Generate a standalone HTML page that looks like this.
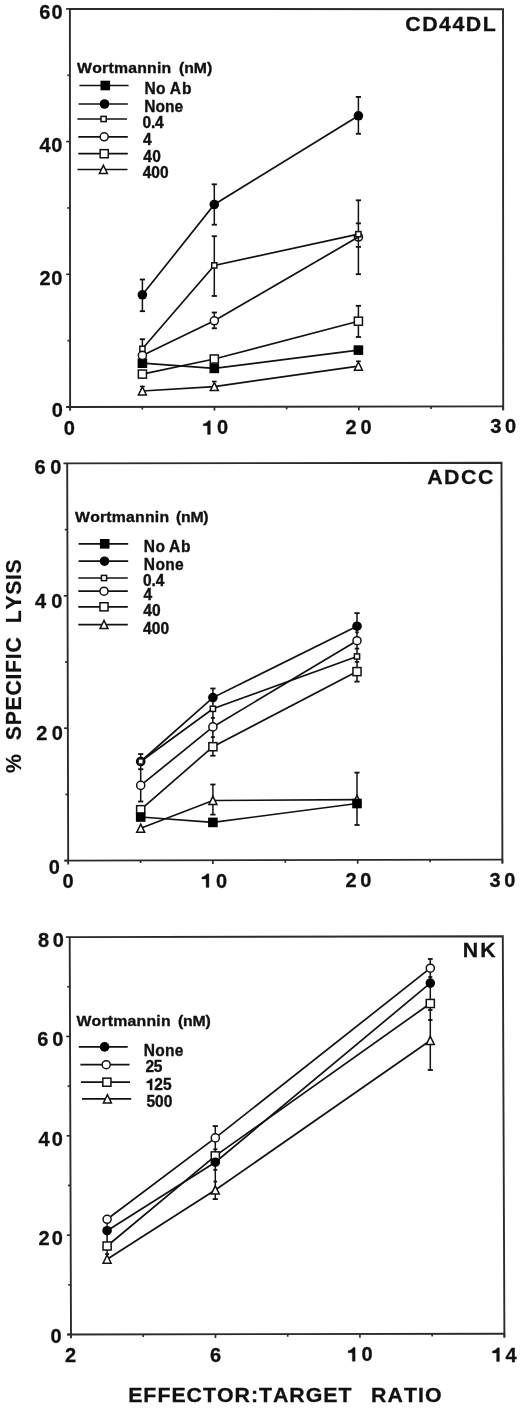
<!DOCTYPE html><html><head><meta charset="utf-8"><style>html,body{margin:0;padding:0;background:#fff;}svg{display:block;will-change:transform;}text{font-family:"Liberation Sans", sans-serif;font-weight:bold;fill:#111;stroke:none;} .hv{stroke:#111;stroke-width:0.35px;} .th{stroke:#111;stroke-width:0.2px;} .tt{stroke:#111;stroke-width:0.3px;}</style></head><body>
<svg width="520" height="1408" viewBox="0 0 520 1408">
<rect width="520" height="1408" fill="#fff"/>
<g stroke="#111" fill="none" stroke-linecap="butt">
<path d="M70.10,410.80 L69.90,8.90 L503.00,9.20 L503.20,410.20" stroke="#2b2b2b" stroke-width="1.9" stroke-linejoin="miter" stroke-linecap="butt"/>
<line x1="66.30" y1="407.00" x2="503.20" y2="406.40" stroke="#2b2b2b" stroke-width="1.9"/>
<line x1="66.30" y1="407.00" x2="70.10" y2="407.00" stroke="#2b2b2b" stroke-width="1.7"/>
<line x1="66.23" y1="274.30" x2="70.03" y2="274.30" stroke="#2b2b2b" stroke-width="1.7"/>
<line x1="66.17" y1="141.60" x2="69.97" y2="141.60" stroke="#2b2b2b" stroke-width="1.7"/>
<line x1="66.10" y1="8.90" x2="69.90" y2="8.90" stroke="#2b2b2b" stroke-width="1.7"/>
<line x1="67.47" y1="340.65" x2="70.07" y2="340.65" stroke="#2b2b2b" stroke-width="1.7"/>
<line x1="67.40" y1="207.95" x2="70.00" y2="207.95" stroke="#2b2b2b" stroke-width="1.7"/>
<line x1="67.33" y1="75.25" x2="69.93" y2="75.25" stroke="#2b2b2b" stroke-width="1.7"/>
<line x1="214.47" y1="406.80" x2="214.47" y2="410.60" stroke="#2b2b2b" stroke-width="1.7"/>
<line x1="358.83" y1="406.60" x2="358.83" y2="410.40" stroke="#2b2b2b" stroke-width="1.7"/>
<line x1="503.20" y1="406.40" x2="503.20" y2="410.20" stroke="#2b2b2b" stroke-width="1.7"/>
<line x1="142.28" y1="406.90" x2="142.28" y2="409.50" stroke="#2b2b2b" stroke-width="1.7"/>
<line x1="286.65" y1="406.70" x2="286.65" y2="409.30" stroke="#2b2b2b" stroke-width="1.7"/>
<line x1="431.02" y1="406.50" x2="431.02" y2="409.10" stroke="#2b2b2b" stroke-width="1.7"/>
<polyline points="142.4,294.8 214.3,204.5 358.4,115.8" fill="none" stroke-width="1.7"/>
<polyline points="142.4,348.8 214.3,265.4 358.4,234.2" fill="none" stroke-width="1.7"/>
<polyline points="142.4,355.4 214.3,320.8 358.4,237.0" fill="none" stroke-width="1.7"/>
<polyline points="142.4,363.2 214.3,368.4 358.4,350.1" fill="none" stroke-width="1.7"/>
<polyline points="142.4,374.1 214.3,359.0 358.4,321.2" fill="none" stroke-width="1.7"/>
<polyline points="142.4,391.0 214.3,386.6 358.4,366.2" fill="none" stroke-width="1.7"/>
<line x1="142.4" y1="279.5" x2="142.4" y2="311.2" stroke-width="1.5"/>
<line x1="139.8" y1="279.5" x2="145.0" y2="279.5" stroke-width="1.8"/>
<line x1="139.8" y1="311.2" x2="145.0" y2="311.2" stroke-width="1.8"/>
<line x1="142.4" y1="339.2" x2="142.4" y2="356.0" stroke-width="1.5"/>
<line x1="139.8" y1="339.2" x2="145.0" y2="339.2" stroke-width="1.8"/>
<line x1="140.0" y1="386.5" x2="144.8" y2="386.5" stroke-width="1.6"/>
<line x1="214.3" y1="184.3" x2="214.3" y2="224.7" stroke-width="1.5"/>
<line x1="211.7" y1="184.3" x2="216.9" y2="184.3" stroke-width="1.8"/>
<line x1="211.7" y1="224.7" x2="216.9" y2="224.7" stroke-width="1.8"/>
<line x1="214.3" y1="236.2" x2="214.3" y2="296.0" stroke-width="1.5"/>
<line x1="211.7" y1="236.2" x2="216.9" y2="236.2" stroke-width="1.8"/>
<line x1="211.7" y1="296.0" x2="216.9" y2="296.0" stroke-width="1.8"/>
<line x1="214.3" y1="312.5" x2="214.3" y2="328.3" stroke-width="1.5"/>
<line x1="211.7" y1="312.5" x2="216.9" y2="312.5" stroke-width="1.8"/>
<line x1="211.7" y1="328.3" x2="216.9" y2="328.3" stroke-width="1.8"/>
<line x1="211.9" y1="381.5" x2="216.7" y2="381.5" stroke-width="1.6"/>
<line x1="358.4" y1="96.9" x2="358.4" y2="133.8" stroke-width="1.5"/>
<line x1="355.8" y1="96.9" x2="361.0" y2="96.9" stroke-width="1.8"/>
<line x1="355.8" y1="133.8" x2="361.0" y2="133.8" stroke-width="1.8"/>
<line x1="358.4" y1="200.3" x2="358.4" y2="274.2" stroke-width="1.5"/>
<line x1="355.8" y1="200.3" x2="361.0" y2="200.3" stroke-width="1.8"/>
<line x1="355.8" y1="223.4" x2="361.0" y2="223.4" stroke-width="1.8"/>
<line x1="355.8" y1="246.9" x2="361.0" y2="246.9" stroke-width="1.8"/>
<line x1="355.8" y1="274.2" x2="361.0" y2="274.2" stroke-width="1.8"/>
<line x1="358.4" y1="305.8" x2="358.4" y2="337.0" stroke-width="1.5"/>
<line x1="355.8" y1="305.8" x2="361.0" y2="305.8" stroke-width="1.8"/>
<line x1="355.8" y1="337.0" x2="361.0" y2="337.0" stroke-width="1.8"/>
<line x1="356.0" y1="361.3" x2="360.8" y2="361.3" stroke-width="1.6"/>
<polygon points="142.40,386.80 146.40,395.00 138.40,395.00" fill="#fff" stroke-width="1.5" stroke-linejoin="miter"/>
<polygon points="214.30,382.40 218.30,390.60 210.30,390.60" fill="#fff" stroke-width="1.5" stroke-linejoin="miter"/>
<polygon points="358.40,362.00 362.40,370.20 354.40,370.20" fill="#fff" stroke-width="1.5" stroke-linejoin="miter"/>
<rect x="138.35" y="370.05" width="8.1" height="8.1" fill="#fff" stroke-width="1.5"/>
<rect x="210.25" y="354.95" width="8.1" height="8.1" fill="#fff" stroke-width="1.5"/>
<rect x="354.35" y="317.15" width="8.1" height="8.1" fill="#fff" stroke-width="1.5"/>
<rect x="137.60" y="358.40" width="9.6" height="9.6" fill="#000" stroke="none"/>
<rect x="209.50" y="363.60" width="9.6" height="9.6" fill="#000" stroke="none"/>
<rect x="353.60" y="345.30" width="9.6" height="9.6" fill="#000" stroke="none"/>
<circle cx="142.40" cy="355.40" r="4.05" fill="#fff" stroke-width="1.5"/>
<circle cx="214.30" cy="320.80" r="4.05" fill="#fff" stroke-width="1.5"/>
<circle cx="358.40" cy="237.00" r="4.05" fill="none" stroke-width="1.5"/>
<rect x="139.80" y="346.20" width="5.2" height="5.2" fill="#fff" stroke-width="1.5"/>
<rect x="211.70" y="262.80" width="5.2" height="5.2" fill="#fff" stroke-width="1.5"/>
<rect x="355.80" y="231.60" width="5.2" height="5.2" fill="#fff" stroke-width="1.5"/>
<circle cx="142.40" cy="294.80" r="4.8" fill="#000" stroke="none"/>
<circle cx="214.30" cy="204.50" r="4.8" fill="#000" stroke="none"/>
<circle cx="358.40" cy="115.80" r="4.8" fill="#000" stroke="none"/>
<line x1="79.4" y1="85.5" x2="128.6" y2="85.5" stroke-width="1.7"/>
<rect x="100.50" y="80.70" width="9.6" height="9.6" fill="#000" stroke="none"/>
<line x1="78.6" y1="104.0" x2="127.8" y2="104.0" stroke-width="1.7"/>
<circle cx="104.50" cy="104.00" r="4.8" fill="#000" stroke="none"/>
<line x1="77.4" y1="119.0" x2="127.0" y2="119.0" stroke-width="1.7"/>
<rect x="101.00" y="116.40" width="5.2" height="5.2" fill="#fff" stroke-width="1.5"/>
<line x1="78.3" y1="136.8" x2="127.8" y2="136.8" stroke-width="1.7"/>
<circle cx="104.20" cy="136.80" r="4.05" fill="#fff" stroke-width="1.5"/>
<line x1="78.3" y1="153.7" x2="127.8" y2="153.7" stroke-width="1.7"/>
<rect x="100.15" y="149.65" width="8.1" height="8.1" fill="#fff" stroke-width="1.5"/>
<line x1="77.5" y1="169.5" x2="127.5" y2="169.5" stroke-width="1.7"/>
<polygon points="103.40,165.30 107.40,173.50 99.40,173.50" fill="#fff" stroke-width="1.5" stroke-linejoin="miter"/>
<path d="M68.20,864.40 L67.20,463.40 L501.50,462.80 L502.40,863.40" stroke="#2b2b2b" stroke-width="1.9" stroke-linejoin="miter" stroke-linecap="butt"/>
<line x1="64.40" y1="860.60" x2="502.40" y2="859.60" stroke="#2b2b2b" stroke-width="1.9"/>
<line x1="64.40" y1="860.60" x2="68.20" y2="860.60" stroke="#2b2b2b" stroke-width="1.7"/>
<line x1="64.07" y1="728.20" x2="67.87" y2="728.20" stroke="#2b2b2b" stroke-width="1.7"/>
<line x1="63.73" y1="595.80" x2="67.53" y2="595.80" stroke="#2b2b2b" stroke-width="1.7"/>
<line x1="63.40" y1="463.40" x2="67.20" y2="463.40" stroke="#2b2b2b" stroke-width="1.7"/>
<line x1="65.43" y1="794.40" x2="68.03" y2="794.40" stroke="#2b2b2b" stroke-width="1.7"/>
<line x1="65.10" y1="662.00" x2="67.70" y2="662.00" stroke="#2b2b2b" stroke-width="1.7"/>
<line x1="64.77" y1="529.60" x2="67.37" y2="529.60" stroke="#2b2b2b" stroke-width="1.7"/>
<line x1="212.93" y1="860.27" x2="212.93" y2="864.07" stroke="#2b2b2b" stroke-width="1.7"/>
<line x1="357.67" y1="859.93" x2="357.67" y2="863.73" stroke="#2b2b2b" stroke-width="1.7"/>
<line x1="502.40" y1="859.60" x2="502.40" y2="863.40" stroke="#2b2b2b" stroke-width="1.7"/>
<line x1="140.57" y1="860.43" x2="140.57" y2="863.03" stroke="#2b2b2b" stroke-width="1.7"/>
<line x1="285.30" y1="860.10" x2="285.30" y2="862.70" stroke="#2b2b2b" stroke-width="1.7"/>
<line x1="430.03" y1="859.77" x2="430.03" y2="862.37" stroke="#2b2b2b" stroke-width="1.7"/>
<polyline points="140.7,761.5 212.9,697.6 357.0,626.2" fill="none" stroke-width="1.7"/>
<polyline points="140.7,761.5 212.9,708.8 357.0,656.5" fill="none" stroke-width="1.7"/>
<polyline points="140.7,785.4 212.9,726.9 357.0,640.7" fill="none" stroke-width="1.7"/>
<polyline points="140.7,809.7 212.9,746.7 357.0,671.6" fill="none" stroke-width="1.7"/>
<polyline points="140.7,817.0 212.9,822.4 357.0,803.5" fill="none" stroke-width="1.7"/>
<polyline points="140.7,828.3 212.9,800.5 357.0,799.6" fill="none" stroke-width="1.7"/>
<line x1="140.7" y1="754.1" x2="140.7" y2="801.5" stroke-width="1.5"/>
<line x1="138.1" y1="754.1" x2="143.3" y2="754.1" stroke-width="1.8"/>
<line x1="138.1" y1="769.2" x2="143.3" y2="769.2" stroke-width="1.8"/>
<line x1="138.1" y1="801.5" x2="143.3" y2="801.5" stroke-width="1.8"/>
<line x1="212.9" y1="688.5" x2="212.9" y2="755.7" stroke-width="1.5"/>
<line x1="210.3" y1="688.5" x2="215.5" y2="688.5" stroke-width="1.8"/>
<line x1="210.9" y1="717.9" x2="214.9" y2="717.9" stroke-width="1.8"/>
<line x1="210.9" y1="737.1" x2="214.9" y2="737.1" stroke-width="1.8"/>
<line x1="210.3" y1="755.7" x2="215.5" y2="755.7" stroke-width="1.8"/>
<line x1="212.9" y1="784.5" x2="212.9" y2="814.6" stroke-width="1.5"/>
<line x1="210.3" y1="784.5" x2="215.5" y2="784.5" stroke-width="1.8"/>
<line x1="210.3" y1="814.6" x2="215.5" y2="814.6" stroke-width="1.8"/>
<line x1="357.0" y1="613.1" x2="357.0" y2="681.6" stroke-width="1.5"/>
<line x1="354.4" y1="613.1" x2="359.6" y2="613.1" stroke-width="1.8"/>
<line x1="355.2" y1="632.3" x2="358.8" y2="632.3" stroke-width="1.8"/>
<line x1="354.8" y1="648.6" x2="359.2" y2="648.6" stroke-width="1.8"/>
<line x1="354.8" y1="661.9" x2="359.2" y2="661.9" stroke-width="1.8"/>
<line x1="354.4" y1="681.6" x2="359.6" y2="681.6" stroke-width="1.8"/>
<line x1="357.0" y1="772.6" x2="357.0" y2="825.0" stroke-width="1.5"/>
<line x1="354.4" y1="772.6" x2="359.6" y2="772.6" stroke-width="1.8"/>
<line x1="354.4" y1="825.0" x2="359.6" y2="825.0" stroke-width="1.8"/>
<polygon points="140.70,824.10 144.70,832.30 136.70,832.30" fill="#fff" stroke-width="1.5" stroke-linejoin="miter"/>
<polygon points="212.90,796.30 216.90,804.50 208.90,804.50" fill="#fff" stroke-width="1.5" stroke-linejoin="miter"/>
<polygon points="357.00,795.40 361.00,803.60 353.00,803.60" fill="#fff" stroke-width="1.5" stroke-linejoin="miter"/>
<rect x="136.65" y="805.65" width="8.1" height="8.1" fill="#fff" stroke-width="1.5"/>
<rect x="208.85" y="742.65" width="8.1" height="8.1" fill="#fff" stroke-width="1.5"/>
<rect x="352.95" y="667.55" width="8.1" height="8.1" fill="#fff" stroke-width="1.5"/>
<rect x="135.90" y="812.20" width="9.6" height="9.6" fill="#000" stroke="none"/>
<rect x="208.10" y="817.60" width="9.6" height="9.6" fill="#000" stroke="none"/>
<rect x="352.20" y="798.70" width="9.6" height="9.6" fill="#000" stroke="none"/>
<circle cx="140.70" cy="785.40" r="4.05" fill="#fff" stroke-width="1.5"/>
<circle cx="212.90" cy="726.90" r="4.05" fill="#fff" stroke-width="1.5"/>
<circle cx="357.00" cy="640.70" r="4.05" fill="#fff" stroke-width="1.5"/>
<circle cx="140.70" cy="761.50" r="4.8" fill="#000" stroke="none"/>
<circle cx="212.90" cy="697.60" r="4.8" fill="#000" stroke="none"/>
<circle cx="357.00" cy="626.20" r="4.8" fill="#000" stroke="none"/>
<rect x="138.10" y="758.90" width="5.2" height="5.2" fill="#fff" stroke-width="1.5"/>
<rect x="210.30" y="706.20" width="5.2" height="5.2" fill="#fff" stroke-width="1.5"/>
<rect x="354.40" y="653.90" width="5.2" height="5.2" fill="#fff" stroke-width="1.5"/>
<line x1="78.6" y1="543.8" x2="128.2" y2="543.8" stroke-width="1.7"/>
<rect x="99.90" y="539.00" width="9.6" height="9.6" fill="#000" stroke="none"/>
<line x1="78.6" y1="561.2" x2="128.2" y2="561.2" stroke-width="1.7"/>
<circle cx="104.50" cy="561.20" r="4.8" fill="#000" stroke="none"/>
<line x1="78.3" y1="578.0" x2="127.8" y2="578.0" stroke-width="1.7"/>
<rect x="101.40" y="575.40" width="5.2" height="5.2" fill="#fff" stroke-width="1.5"/>
<line x1="78.3" y1="591.2" x2="127.8" y2="591.2" stroke-width="1.7"/>
<circle cx="104.00" cy="591.20" r="4.05" fill="#fff" stroke-width="1.5"/>
<line x1="78.3" y1="606.8" x2="127.8" y2="606.8" stroke-width="1.7"/>
<rect x="99.95" y="602.75" width="8.1" height="8.1" fill="#fff" stroke-width="1.5"/>
<line x1="78.3" y1="624.6" x2="127.8" y2="624.6" stroke-width="1.7"/>
<polygon points="104.00,620.40 108.00,628.60 100.00,628.60" fill="#fff" stroke-width="1.5" stroke-linejoin="miter"/>
<path d="M71.00,1338.30 L69.70,937.10 L502.80,936.30 L504.40,1337.50" stroke="#2b2b2b" stroke-width="1.9" stroke-linejoin="miter" stroke-linecap="butt"/>
<line x1="67.20" y1="1334.50" x2="504.40" y2="1333.70" stroke="#2b2b2b" stroke-width="1.9"/>
<line x1="67.20" y1="1334.50" x2="71.00" y2="1334.50" stroke="#2b2b2b" stroke-width="1.7"/>
<line x1="66.88" y1="1235.15" x2="70.67" y2="1235.15" stroke="#2b2b2b" stroke-width="1.7"/>
<line x1="66.55" y1="1135.80" x2="70.35" y2="1135.80" stroke="#2b2b2b" stroke-width="1.7"/>
<line x1="66.23" y1="1036.45" x2="70.03" y2="1036.45" stroke="#2b2b2b" stroke-width="1.7"/>
<line x1="65.90" y1="937.10" x2="69.70" y2="937.10" stroke="#2b2b2b" stroke-width="1.7"/>
<line x1="68.24" y1="1284.83" x2="70.84" y2="1284.83" stroke="#2b2b2b" stroke-width="1.7"/>
<line x1="67.91" y1="1185.47" x2="70.51" y2="1185.47" stroke="#2b2b2b" stroke-width="1.7"/>
<line x1="67.59" y1="1086.12" x2="70.19" y2="1086.12" stroke="#2b2b2b" stroke-width="1.7"/>
<line x1="67.26" y1="986.77" x2="69.86" y2="986.77" stroke="#2b2b2b" stroke-width="1.7"/>
<line x1="215.47" y1="1334.23" x2="215.47" y2="1338.03" stroke="#2b2b2b" stroke-width="1.7"/>
<line x1="359.93" y1="1333.97" x2="359.93" y2="1337.77" stroke="#2b2b2b" stroke-width="1.7"/>
<line x1="504.40" y1="1333.70" x2="504.40" y2="1337.50" stroke="#2b2b2b" stroke-width="1.7"/>
<line x1="143.23" y1="1334.37" x2="143.23" y2="1336.97" stroke="#2b2b2b" stroke-width="1.7"/>
<line x1="287.70" y1="1334.10" x2="287.70" y2="1336.70" stroke="#2b2b2b" stroke-width="1.7"/>
<line x1="432.17" y1="1333.83" x2="432.17" y2="1336.43" stroke="#2b2b2b" stroke-width="1.7"/>
<polyline points="107.1,1219.3 215.3,1137.9 430.3,968.2" fill="none" stroke-width="1.7"/>
<polyline points="107.1,1230.7 215.3,1162.2 430.3,983.1" fill="none" stroke-width="1.7"/>
<polyline points="107.1,1246.0 215.3,1155.9 430.3,1003.5" fill="none" stroke-width="1.7"/>
<polyline points="107.1,1259.2 215.3,1190.0 430.3,1040.5" fill="none" stroke-width="1.7"/>
<line x1="430.3" y1="959.0" x2="430.3" y2="1070.0" stroke-width="1.5"/>
<line x1="427.9" y1="959.0" x2="432.7" y2="959.0" stroke-width="1.8"/>
<line x1="428.3" y1="977.0" x2="432.3" y2="977.0" stroke-width="1.8"/>
<line x1="428.1" y1="1010.0" x2="432.5" y2="1010.0" stroke-width="1.8"/>
<line x1="428.1" y1="1020.0" x2="432.5" y2="1020.0" stroke-width="1.8"/>
<line x1="427.7" y1="1070.0" x2="432.9" y2="1070.0" stroke-width="1.8"/>
<line x1="215.3" y1="1126.1" x2="215.3" y2="1199.1" stroke-width="1.5"/>
<line x1="212.7" y1="1126.1" x2="217.9" y2="1126.1" stroke-width="1.8"/>
<line x1="213.3" y1="1149.3" x2="217.3" y2="1149.3" stroke-width="1.8"/>
<line x1="213.3" y1="1169.8" x2="217.3" y2="1169.8" stroke-width="1.8"/>
<line x1="213.5" y1="1181.6" x2="217.1" y2="1181.6" stroke-width="1.8"/>
<line x1="212.7" y1="1199.1" x2="217.9" y2="1199.1" stroke-width="1.8"/>
<line x1="107.1" y1="1219.0" x2="107.1" y2="1254.0" stroke-width="1.5"/>
<line x1="105.1" y1="1254.0" x2="109.1" y2="1254.0" stroke-width="1.8"/>
<polygon points="107.10,1255.00 111.10,1263.20 103.10,1263.20" fill="#fff" stroke-width="1.5" stroke-linejoin="miter"/>
<polygon points="215.30,1185.80 219.30,1194.00 211.30,1194.00" fill="#fff" stroke-width="1.5" stroke-linejoin="miter"/>
<polygon points="430.30,1036.30 434.30,1044.50 426.30,1044.50" fill="#fff" stroke-width="1.5" stroke-linejoin="miter"/>
<rect x="103.05" y="1241.95" width="8.1" height="8.1" fill="#fff" stroke-width="1.5"/>
<rect x="211.25" y="1151.85" width="8.1" height="8.1" fill="#fff" stroke-width="1.5"/>
<rect x="426.25" y="999.45" width="8.1" height="8.1" fill="#fff" stroke-width="1.5"/>
<circle cx="107.10" cy="1230.70" r="4.8" fill="#000" stroke="none"/>
<circle cx="215.30" cy="1162.20" r="4.8" fill="#000" stroke="none"/>
<circle cx="430.30" cy="983.10" r="4.8" fill="#000" stroke="none"/>
<circle cx="107.10" cy="1219.30" r="4.05" fill="#fff" stroke-width="1.5"/>
<circle cx="215.30" cy="1137.90" r="4.05" fill="#fff" stroke-width="1.5"/>
<circle cx="430.30" cy="968.20" r="4.05" fill="#fff" stroke-width="1.5"/>
<line x1="78.8" y1="1046.9" x2="127.7" y2="1046.9" stroke-width="1.7"/>
<circle cx="104.60" cy="1046.90" r="4.8" fill="#000" stroke="none"/>
<line x1="80.4" y1="1064.7" x2="129.5" y2="1064.7" stroke-width="1.7"/>
<circle cx="106.20" cy="1064.70" r="4.05" fill="#fff" stroke-width="1.5"/>
<line x1="81.0" y1="1082.2" x2="130.0" y2="1082.2" stroke-width="1.7"/>
<rect x="102.85" y="1078.15" width="8.1" height="8.1" fill="#fff" stroke-width="1.5"/>
<line x1="82.0" y1="1098.9" x2="131.2" y2="1098.9" stroke-width="1.7"/>
<polygon points="107.40,1094.70 111.40,1102.90 103.40,1102.90" fill="#fff" stroke-width="1.5" stroke-linejoin="miter"/>
</g>

<text x="39.27 51.40" y="18.90" font-size="20" class="tt">60</text>


<text x="39.40 51.20" y="151.70" font-size="20" class="tt">40</text>


<text x="39.41 51.20" y="284.50" font-size="20" class="tt">20</text>


<text x="51.71" y="416.50" font-size="20" class="tt">0</text>


<text x="63.81" y="434.50" font-size="20" class="tt">0</text>


<path d="M560,0 L850,0 L850,1409 L650,1409 C560,1250 400,1130 129,1085 L129,885 L560,885 Z" transform="translate(202.04,434.40) scale(0.00977,-0.00977)" fill="#111" stroke="#111" stroke-width="0.3" vector-effect="non-scaling-stroke"/>
<text x="217.10" y="434.40" font-size="20" class="tt">0</text>


<text x="345.51 360.60" y="434.40" font-size="20" class="tt">20</text>


<text x="490.34 505.00" y="433.40" font-size="20" class="tt">30</text>

<g transform="translate(406.20,0) scale(1.05,1)">
<text x="-0.83 15.24 31.31 44.02 56.72 72.80" y="30.60" font-size="20.3" class="tt">CD44DL</text>
</g>
<g transform="translate(77.05,0) scale(1.04,1)">
<text x="-0.01 14.55 24.05 30.19 35.47 49.20 57.87 67.38 76.88 81.32" y="72.70" font-size="15.2" class="hv">Wortmannin</text>
</g>
<g transform="translate(179.70,0) scale(1.04,1)">
<text x="-0.76 4.28 13.54 26.18" y="72.70" font-size="15.2" class="hv">(nM)</text>
</g>
<g transform="translate(145.50,0) scale(0.955,1)">
<text x="-1.09 10.89" y="94.30" font-size="16.3" class="hv">No</text>
</g>
<g transform="translate(170.20,0) scale(0.955,1)">
<text x="-0.41 12.28" y="94.30" font-size="16.3" class="hv">Ab</text>
</g>
<g transform="translate(145.20,0) scale(0.955,1)">
<text x="-1.09 10.74 20.75 30.76" y="112.20" font-size="16.3" class="hv">None</text>
</g>
<g transform="translate(143.20,0) scale(0.955,1)">
<text x="-0.64 8.19 12.49" y="127.70" font-size="16.3" class="hv">0.4</text>
</g>
<g transform="translate(143.20,0) scale(0.955,1)">
<text x="-0.25" y="145.10" font-size="16.3" class="hv">4</text>
</g>
<g transform="translate(143.40,0) scale(0.955,1)">
<text x="-0.25 9.30" y="162.00" font-size="16.3" class="hv">40</text>
</g>
<g transform="translate(143.00,0) scale(0.955,1)">
<text x="-0.25 8.77 17.78" y="177.70" font-size="16.3" class="hv">400</text>
</g>

<text x="34.47 50.30" y="473.60" font-size="20" class="tt">60</text>


<text x="35.10 51.20" y="608.00" font-size="20" class="tt">40</text>


<text x="36.31 51.70" y="739.80" font-size="20" class="tt">20</text>


<text x="48.71" y="873.90" font-size="20" class="tt">0</text>


<text x="62.61" y="888.20" font-size="20" class="tt">0</text>


<path d="M560,0 L850,0 L850,1409 L650,1409 C560,1250 400,1130 129,1085 L129,885 L560,885 Z" transform="translate(200.64,887.60) scale(0.00977,-0.00977)" fill="#111" stroke="#111" stroke-width="0.3" vector-effect="non-scaling-stroke"/>
<text x="215.90" y="887.60" font-size="20" class="tt">0</text>


<text x="345.51 360.20" y="887.40" font-size="20" class="tt">20</text>


<text x="489.54 504.30" y="887.20" font-size="20" class="tt">30</text>

<g transform="translate(427.70,0) scale(1.05,1)">
<text x="-0.51 15.63 31.76 47.90" y="484.50" font-size="20.3" class="tt">ADCC</text>
</g>
<g transform="translate(75.05,0) scale(1.04,1)">
<text x="-0.01 14.53 24.01 30.12 35.38 49.09 57.74 67.23 76.71 81.13" y="521.70" font-size="15.2" class="hv">Wortmannin</text>
</g>
<g transform="translate(176.80,0) scale(1.04,1)">
<text x="-0.76 4.06 13.09 25.50" y="521.70" font-size="15.2" class="hv">(nM)</text>
</g>
<g transform="translate(144.90,0) scale(0.955,1)">
<text x="-1.09 11.20" y="551.80" font-size="16.3" class="hv">No</text>
</g>
<g transform="translate(169.40,0) scale(0.955,1)">
<text x="-0.41 12.18" y="551.80" font-size="16.3" class="hv">Ab</text>
</g>
<g transform="translate(144.90,0) scale(0.955,1)">
<text x="-1.09 11.02 21.31 31.60" y="570.00" font-size="16.3" class="hv">None</text>
</g>
<g transform="translate(143.50,0) scale(0.955,1)">
<text x="-0.64 8.35 12.80" y="585.80" font-size="16.3" class="hv">0.4</text>
</g>
<g transform="translate(143.80,0) scale(0.955,1)">
<text x="-0.25" y="600.20" font-size="16.3" class="hv">4</text>
</g>
<g transform="translate(143.50,0) scale(0.955,1)">
<text x="-0.25 8.78" y="615.80" font-size="16.3" class="hv">40</text>
</g>
<g transform="translate(143.20,0) scale(0.955,1)">
<text x="-0.25 8.98 18.20" y="633.70" font-size="16.3" class="hv">400</text>
</g>

<text x="37.97 52.80" y="947.20" font-size="20" class="tt">80</text>


<text x="37.27 52.20" y="1045.60" font-size="20" class="tt">60</text>


<text x="38.40 51.70" y="1146.30" font-size="20" class="tt">40</text>


<text x="38.41 51.70" y="1245.20" font-size="20" class="tt">20</text>


<text x="50.41" y="1342.50" font-size="20" class="tt">0</text>


<text x="65.01" y="1362.20" font-size="20" class="tt">2</text>


<text x="210.07" y="1361.60" font-size="20" class="tt">6</text>


<path d="M560,0 L850,0 L850,1409 L650,1409 C560,1250 400,1130 129,1085 L129,885 L560,885 Z" transform="translate(346.84,1361.30) scale(0.00977,-0.00977)" fill="#111" stroke="#111" stroke-width="0.3" vector-effect="non-scaling-stroke"/>
<text x="361.60" y="1361.30" font-size="20" class="tt">0</text>


<path d="M560,0 L850,0 L850,1409 L650,1409 C560,1250 400,1130 129,1085 L129,885 L560,885 Z" transform="translate(491.14,1361.60) scale(0.00977,-0.00977)" fill="#111" stroke="#111" stroke-width="0.3" vector-effect="non-scaling-stroke"/>
<text x="505.58" y="1361.60" font-size="20" class="tt">4</text>

<g transform="translate(464.10,0) scale(1.05,1)">
<text x="-1.36 15.34" y="957.00" font-size="20.3" class="tt">NK</text>
</g>
<g transform="translate(76.50,0) scale(1.04,1)">
<text x="-0.01 14.53 24.02 30.14 35.40 49.12 57.78 67.26 76.75 81.18" y="1026.50" font-size="15.2" class="hv">Wortmannin</text>
</g>
<g transform="translate(178.70,0) scale(1.04,1)">
<text x="-0.76 4.15 13.28 25.79" y="1026.50" font-size="15.2" class="hv">(nM)</text>
</g>
<g transform="translate(144.80,0) scale(0.955,1)">
<text x="-1.09 10.91 21.10 31.28" y="1055.90" font-size="16.3" class="hv">None</text>
</g>
<g transform="translate(146.00,0) scale(0.955,1)">
<text x="-0.57 8.25" y="1071.80" font-size="16.3" class="hv">25</text>
</g>
<g transform="translate(146.70,0) scale(0.955,1)">
<path d="M560,0 L850,0 L850,1409 L650,1409 C560,1250 400,1130 129,1085 L129,885 L560,885 Z" transform="translate(-1.03,1090.00) scale(0.00796,-0.00796)" fill="#111" stroke="#111" stroke-width="0.35" vector-effect="non-scaling-stroke"/>
<text x="8.03" y="1090.00" font-size="16.3" class="hv">2</text>
<text x="17.10" y="1090.00" font-size="16.3" class="hv">5</text>
</g>
<g transform="translate(146.90,0) scale(0.955,1)">
<text x="-0.50 8.54 17.57" y="1107.10" font-size="16.3" class="hv">500</text>
</g>
<g transform="translate(129.60,0) scale(1.05,1)">
<text x="-1.36 13.12 26.46 39.79 54.27 69.87 83.20 99.93 115.53 123.23 136.56 152.16 167.76 184.48 198.96" y="1402.50" font-size="20.3" class="tt">EFFECTOR:TARGET</text>
</g>
<g transform="translate(372.50,0) scale(1.05,1)">
<text x="-1.36 14.33 30.02 43.44 50.11" y="1402.50" font-size="20.3" class="tt">RATIO</text>
</g>
<g transform="translate(21.1,772.5) rotate(-90)">
<text x="-0.53" y="0" font-size="21.3" class="th">%</text>
<text x="32.29 47.17 62.06 76.95 93.01 99.61 113.30 119.90" y="0" font-size="21.3" class="th">SPECIFIC</text>
<text x="149.28 162.91 177.75 192.58 199.13" y="0" font-size="21.3" class="th">LYSIS</text>
</g>
</svg></body></html>
